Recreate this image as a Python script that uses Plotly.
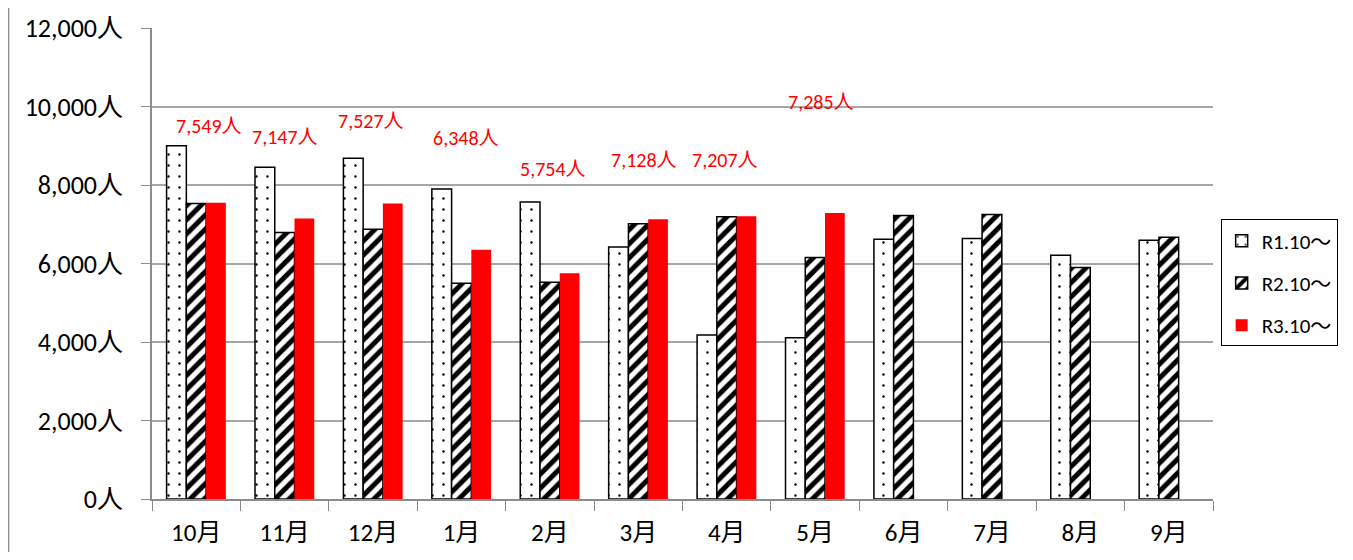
import plotly.graph_objects as go

months = ["10月", "11月", "12月", "1月", "2月", "3月", "4月", "5月", "6月", "7月", "8月", "9月"]
r1 = [9000, 8450, 8680, 7900, 7570, 6420, 4180, 4110, 6620, 6640, 6210, 6590]
r2 = [7530, 6790, 6870, 5500, 5520, 7010, 7190, 6150, 7220, 7250, 5900, 6670]
r3 = [7549, 7147, 7527, 6348, 5754, 7128, 7207, 7285, None, None, None, None]
series_names = ["R1.10～", "R2.10～", "R3.10～"]
y_ticks = [0, 2000, 4000, 6000, 8000, 10000, 12000]
y_tick_text = ["0人", "2,000人", "4,000人", "6,000人", "8,000人", "10,000人", "12,000人"]

# label placement (pixel x-shift from category center, y in data units)
label_xshift = [13, 0, -2, 5, 3, 6, -2, 6]
label_y = [9500, 9220, 9630, 9200, 8410, 8640, 8640, 10120]

FONT = "Calibri, Carlito, 'Noto Sans CJK JP', sans-serif"

fig = go.Figure()
fig.add_trace(go.Bar(
    x=months, y=r1, name=series_names[0], legendgroup="a",
    marker=dict(color="white", line=dict(color="black", width=1.5),
                pattern=dict(shape=".", fgcolor="black", bgcolor="white", size=11,
                             solidity=0.04, fgopacity=1)),
))
fig.add_trace(go.Bar(
    x=months, y=r2, name=series_names[1], legendgroup="b",
    marker=dict(color="white", line=dict(color="black", width=1.5),
                pattern=dict(shape="/", fgcolor="black", bgcolor="white", size=10,
                             solidity=0.5, fgopacity=1)),
))
fig.add_trace(go.Bar(
    x=months, y=r3, name=series_names[2], legendgroup="c",
    marker=dict(color="#ff0000", line=dict(color="#ff0000", width=0)),
))

for i, v in enumerate(r3):
    if v is None:
        continue
    fig.add_annotation(
        x=months[i], y=label_y[i], xref="x", yref="y", xshift=label_xshift[i],
        text=f"{v:,}人", showarrow=False,
        font=dict(color="#ff0000", size=20, family=FONT),
    )

# outer chart border on left
fig.add_shape(type="line", xref="paper", yref="paper", x0=-0.1352, x1=-0.1352,
              y0=-0.2, y1=1.1, line=dict(color="#8c8c8c", width=1.5))

fig.update_layout(
    width=1337, height=544,
    margin=dict(l=144, r=132, t=20, b=53, autoexpand=False),
    paper_bgcolor="white", plot_bgcolor="white",
    barmode="group", bargap=0.33, bargroupgap=0,
    font=dict(family=FONT, color="black"),
    legend=dict(xref="container", yref="container", x=0.907, xanchor="left",
                y=0.4945, yanchor="middle", itemwidth=30,
                bordercolor="black", borderwidth=1, font=dict(size=21, family=FONT),
                tracegroupgap=12, bgcolor="white"),
    xaxis=dict(showline=True, linecolor="#8c8c8c", linewidth=1.5, automargin=False,
               ticks="outside", tickson="boundaries", ticklen=10, tickcolor="#8c8c8c",
               tickfont=dict(size=25, family=FONT), showgrid=False, ticklabelstandoff=10),
    yaxis=dict(range=[0, 12000], tickvals=y_ticks, ticktext=y_tick_text, automargin=False,
               showline=True, linecolor="#8c8c8c", linewidth=1.5,
               ticks="outside", ticklen=9, tickcolor="#8c8c8c",
               showgrid=True, gridcolor="#a6a6a6", gridwidth=1.5,
               ticklabelstandoff=13, tickfont=dict(size=26, family=FONT), zeroline=False),
)

fig.write_html("out.html", config={"displayModeBar": False})
